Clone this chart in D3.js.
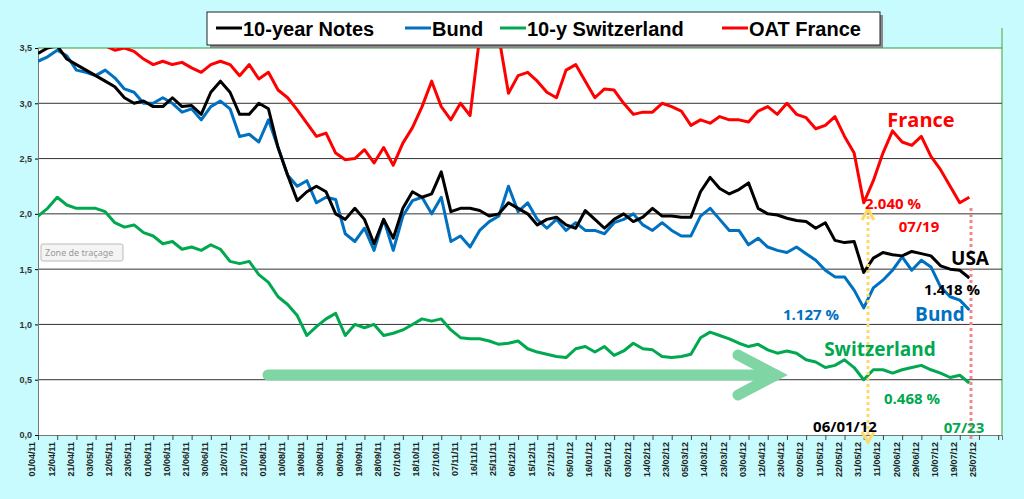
<!DOCTYPE html>
<html>
<head>
<meta charset="utf-8">
<script src="https://cdn.jsdelivr.net/npm/d3@7"></script>
<style>
  body { margin:0; background:#c8fbfd; }
  svg { display:block; }
</style>
</head>
<body>
<script>
// tick labels, one every 2 samples
var dateLabels = ["01/04/11","12/04/11","21/04/11","03/05/11","12/05/11","23/05/11","01/06/11","10/06/11","21/06/11","30/06/11",
  "12/07/11","21/07/11","01/08/11","10/08/11","19/08/11","30/08/11","08/09/11","19/09/11","28/09/11","07/10/11",
  "18/10/11","27/10/11","07/11/11","16/11/11","25/11/11","06/12/11","15/12/11","27/12/11","05/01/12","16/01/12",
  "25/01/12","03/02/12","14/02/12","23/02/12","05/03/12","14/03/12","23/03/12","03/04/12","12/04/12","23/04/12",
  "02/05/12","11/05/12","22/05/12","31/05/12","11/06/12","20/06/12","29/06/12","10/07/12","19/07/12","25/07/12"];

var usNotes = [3.45,3.50,3.52,3.40,3.35,3.30,3.25,3.20,3.15,3.05,3.00,3.02,2.97,2.97,3.05,2.97,2.98,2.90,3.10,3.20,
  3.10,2.90,2.90,3.00,2.95,2.60,2.35,2.12,2.20,2.25,2.20,2.00,1.95,2.05,1.95,1.73,1.95,1.78,2.05,2.20,
  2.15,2.18,2.38,2.02,2.05,2.05,2.03,1.98,2.00,2.10,2.05,2.00,1.90,1.95,1.97,1.90,1.87,2.03,1.95,1.87,
  1.95,2.00,1.93,1.97,2.05,1.98,1.98,1.97,1.97,2.20,2.33,2.23,2.18,2.22,2.28,2.05,2.00,1.99,1.96,1.94,
  1.93,1.87,1.92,1.76,1.74,1.75,1.47,1.60,1.65,1.63,1.62,1.66,1.64,1.62,1.53,1.50,1.49,1.42];

var bund = [3.38,3.42,3.48,3.43,3.30,3.28,3.25,3.30,3.23,3.13,3.10,3.00,3.00,3.05,3.00,2.92,2.95,2.85,2.97,3.02,
  2.95,2.70,2.72,2.65,2.85,2.60,2.35,2.25,2.30,2.10,2.15,2.13,1.82,1.75,1.87,1.67,1.95,1.67,1.98,2.12,
  2.15,2.00,2.15,1.75,1.80,1.70,1.85,1.93,1.98,2.25,2.02,2.10,1.95,1.87,1.95,1.85,1.92,1.85,1.85,1.82,
  1.92,1.95,2.00,1.90,1.85,1.92,1.85,1.80,1.80,1.98,2.05,1.95,1.85,1.85,1.72,1.78,1.70,1.67,1.65,1.70,
  1.64,1.58,1.49,1.43,1.43,1.31,1.15,1.33,1.40,1.49,1.61,1.49,1.58,1.52,1.34,1.25,1.22,1.13];

var swiss = [1.98,2.05,2.15,2.08,2.05,2.05,2.05,2.02,1.92,1.88,1.90,1.83,1.80,1.73,1.75,1.68,1.70,1.67,1.72,1.68,
  1.57,1.55,1.57,1.45,1.38,1.25,1.18,1.08,0.90,0.98,1.05,1.10,0.90,1.00,0.97,1.00,0.90,0.92,0.95,1.00,
  1.05,1.03,1.05,0.95,0.88,0.87,0.87,0.85,0.82,0.83,0.85,0.78,0.75,0.73,0.71,0.70,0.78,0.80,0.75,0.80,
  0.72,0.76,0.83,0.78,0.77,0.71,0.70,0.71,0.73,0.88,0.93,0.90,0.87,0.83,0.80,0.82,0.77,0.74,0.76,0.74,
  0.68,0.66,0.61,0.63,0.68,0.61,0.50,0.59,0.59,0.56,0.59,0.61,0.63,0.59,0.56,0.52,0.54,0.47];

var oat = [3.60,3.60,3.62,3.60,3.58,3.56,3.55,3.52,3.48,3.50,3.47,3.40,3.35,3.38,3.35,3.37,3.32,3.28,3.35,3.38,
  3.35,3.25,3.35,3.22,3.28,3.12,3.05,2.94,2.82,2.70,2.73,2.55,2.49,2.50,2.58,2.46,2.60,2.44,2.64,2.78,
  2.97,3.20,2.97,2.85,3.00,2.89,3.60,3.55,3.60,3.09,3.25,3.28,3.20,3.10,3.05,3.30,3.35,3.20,3.05,3.13,
  3.12,3.00,2.90,2.92,2.92,3.00,2.97,2.93,2.80,2.85,2.82,2.88,2.85,2.85,2.83,2.93,2.97,2.90,3.00,2.90,
  2.87,2.77,2.80,2.88,2.70,2.55,2.10,2.30,2.55,2.75,2.65,2.62,2.70,2.52,2.40,2.25,2.10,2.15];

var yTicks = [0,0.5,1,1.5,2,2.5,3,3.5];

var W = 1024, H = 499;
var m = {left:38, right:22, top:48, bottom:64};

var svg = d3.select("body").append("svg").attr("width", W).attr("height", H);

var x = d3.scaleLinear().domain([0, 100.4]).range([m.left, W - m.right]);
var y = d3.scaleLinear().domain([0, 3.5]).range([H - m.bottom, m.top]);

// plot area
svg.append("rect").attr("x", m.left).attr("y", m.top)
  .attr("width", W - m.left - m.right).attr("height", H - m.top - m.bottom)
  .attr("fill", "#fff");
svg.append("line").attr("x1", W - m.right).attr("x2", W - m.right)
  .attr("y1", m.top - 20).attr("y2", H - m.bottom)
  .attr("stroke", "#8ccf9a").attr("stroke-width", 2);

// grid
svg.append("g").selectAll("line").data(yTicks.slice(1)).join("line")
  .attr("x1", m.left).attr("x2", W - m.right)
  .attr("y1", d => y(d)).attr("y2", d => y(d))
  .attr("stroke", d => d == 3.5 ? "#2a9d3a" : "#333").attr("stroke-width", 1);

// y axis
var yAxis = svg.append("g").attr("transform", "translate(" + m.left + ",0)")
  .call(d3.axisLeft(y).tickValues(yTicks).tickSize(3)
    .tickFormat(d => d3.format(".1f")(d).replace(".", ",")));
yAxis.select(".domain").attr("stroke", "#777");
yAxis.selectAll("text").attr("font-family", "Arial, Liberation Sans").attr("font-size", 9)
  .attr("font-weight", "bold").attr("fill", "#333");

// x axis
var xAxis = svg.append("g").attr("transform", "translate(0," + (H - m.bottom) + ")")
  .call(d3.axisBottom(x).tickValues(d3.range(0, 51).map(k => 2 * k)).tickSize(5)
    .tickFormat(d => dateLabels[d / 2] || ""));
xAxis.select(".domain").attr("stroke", "#777");
xAxis.selectAll(".tick line").attr("stroke", "#444");
xAxis.selectAll("text").attr("font-family", "Arial, Liberation Sans").attr("font-size", 9)
  .attr("font-weight", "bold").attr("fill", "#222")
  .attr("transform", "rotate(-90)").attr("text-anchor", "end")
  .attr("dx", "-4px").attr("dy", "-0.35em").attr("y", 0).attr("x", -3);

svg.append("clipPath").attr("id", "clip").append("rect")
  .attr("x", m.left).attr("y", m.top).attr("width", W - m.left - m.right).attr("height", H - m.top - m.bottom);

// green trend arrow
var arrow = svg.append("g").attr("stroke", "#7fd6a4").attr("stroke-width", 11)
  .attr("stroke-linecap", "round").attr("fill", "none");
arrow.append("line").attr("x1", 268).attr("x2", 776).attr("y1", 375).attr("y2", 375);
arrow.append("polyline").attr("points", "738,355 776,375 738,395");

var line = d3.line().x((d, i) => x(i)).y(d => y(d));
var series = [
  {v: oat, c: "#ff0000"},
  {v: swiss, c: "#00a84f"},
  {v: bund, c: "#0070c0"},
  {v: usNotes, c: "#000000"}
];
svg.append("g").attr("clip-path", "url(#clip)").selectAll("path").data(series).join("path")
  .attr("d", d => line(d.v)).attr("fill", "none").attr("stroke", d => d.c)
  .attr("stroke-width", 3).attr("stroke-linejoin", "round");

// vertical dotted markers
svg.append("line").attr("x1", 868).attr("x2", 868).attr("y1", 210).attr("y2", 438)
  .attr("stroke", "#ffd966").attr("stroke-width", 3).attr("stroke-dasharray", "3,3");
svg.append("polyline").attr("points", "862,220 868,209 874,220").attr("fill", "none")
  .attr("stroke", "#ffd966").attr("stroke-width", 3);
svg.append("polyline").attr("points", "862,432 868,442 874,432").attr("fill", "none")
  .attr("stroke", "#ffd966").attr("stroke-width", 3);
svg.append("line").attr("x1", 971).attr("x2", 971).attr("y1", 208).attr("y2", 440)
  .attr("stroke", "#f4868a").attr("stroke-width", 3).attr("stroke-dasharray", "3,3");

// annotations
var notes = [
  ["France", 921, 127, "#ff0000", 20],
  ["2.040 %", 893, 209, "#ff0000", 15],
  ["07/19", 919, 232, "#ff0000", 15],
  ["USA", 970, 265, "#000", 19],
  ["1.418 %", 952, 295, "#000", 15],
  ["1.127 %", 811, 320, "#0070c0", 15],
  ["Bund", 940, 321, "#0070c0", 19],
  ["Switzerland", 880, 356, "#00a84f", 19],
  ["0.468 %", 912, 404, "#00a84f", 15],
  ["06/01/12", 845, 432, "#000", 15],
  ["07/23", 964, 433, "#00a84f", 15]
];
svg.append("g").selectAll("text").data(notes).join("text")
  .attr("x", d => d[1]).attr("y", d => d[2]).attr("fill", d => d[3])
  .attr("font-size", d => d[4]).attr("font-weight", "bold")
  .attr("font-family", "Open Sans, Noto Sans, sans-serif").attr("text-anchor", "middle")
  .text(d => d[0]);

// "Zone de traçage" tooltip
svg.append("rect").attr("x", 41).attr("y", 244).attr("width", 82).attr("height", 17)
  .attr("fill", "#f4f4f4").attr("stroke", "#bbb").attr("rx", 2);
svg.append("text").attr("x", 45).attr("y", 256).attr("font-size", 9)
  .attr("font-family", "Noto Sans, sans-serif").attr("fill", "#999").text("Zone de traçage");

// legend
var lg = svg.append("g");
lg.append("rect").attr("x", 210).attr("y", 15).attr("width", 673).attr("height", 33).attr("fill", "#888");
lg.append("rect").attr("x", 207).attr("y", 12).attr("width", 673).attr("height", 33)
  .attr("fill", "#fff").attr("stroke", "#222");
var items = [["10-year Notes", "#000", 216], ["Bund", "#0070c0", 405], ["10-y Switzerland", "#00a84f", 500], ["OAT France", "#ff0000", 722]];
items.forEach(function(it) {
  lg.append("line").attr("x1", it[2]).attr("x2", it[2] + 26).attr("y1", 28).attr("y2", 28)
    .attr("stroke", it[1]).attr("stroke-width", 3);
  lg.append("text").attr("x", it[2] + 27).attr("y", 36).attr("font-size", 20).attr("font-weight", "bold")
    .attr("font-family", "Arial, Liberation Sans, sans-serif").attr("fill", "#000").text(it[0]);
});
</script>
</body>
</html>
